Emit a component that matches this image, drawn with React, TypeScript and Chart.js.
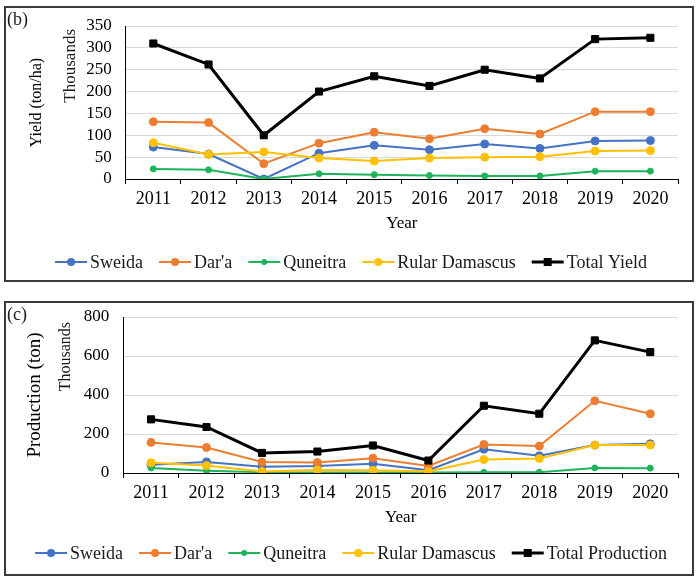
import React, { useEffect, useRef } from "react";
import { Chart, registerables } from "chart.js";

Chart.register(...registerables);

const FONT = '"Liberation Serif", "Times New Roman", Times, serif';

// ---------- data ----------
const years = ["2011", "2012", "2013", "2014", "2015", "2016", "2017", "2018", "2019", "2020"];

const seriesNames = ["Sweida", "Dar'a", "Quneitra", "Rular Damascus"];

// Yield (ton/ha), thousands
const yieldSweida = [73, 57, 0, 59, 77, 67, 80, 70, 87, 88];
const yieldDara = [131, 129, 35, 82, 107, 92, 115, 103, 154, 154];
const yieldQuneitra = [23, 21, 0, 12, 10, 8, 7, 7, 18, 18];
const yieldRural = [83, 56, 62, 48, 41, 48, 50, 51, 64, 65];
const yieldTotal = [310, 262, 100, 200, 235, 213, 250, 230, 320, 323];

// Production (ton), thousands
const prodSweida = [42, 57, 32, 36, 48, 14, 122, 88, 143, 150];
const prodDara = [157, 131, 56, 54, 76, 36, 146, 138, 370, 304];
const prodQuneitra = [26, 12, 4, 3, 2, 2, 4, 4, 26, 25];
const prodRural = [52, 38, 8, 16, 14, 8, 69, 74, 143, 143];
const prodTotal = [275, 236, 103, 110, 141, 64, 345, 304, 680, 620];

const yieldTicks = { min: 0, max: 350, step: 50 };
const prodTicks = { min: 0, max: 800, step: 200 };

const COLORS = ["#4472C4", "#ED7D31", "#1DB45C", "#FFC000", "#000000"];

type PanelCfg = {
  panel: string;
  yTitle: string;
  yTitleSize: number;
  yTitlePad: { top: number; bottom: number };
  totalLabel: string;
  regions: number[][];
  total: number[];
  ticks: { min: number; max: number; step: number };
  height: number;
  padTop: number;
  padLeft: number;
  padBottom: number;
  thX: number;
  thTop: number;
  thSize: number;
  legendFromBottom: number;
};

function extrasPlugin(cfg: PanelCfg) {
  return {
    id: "extras",
    afterDraw(chart: any) {
      const ctx: CanvasRenderingContext2D = chart.ctx;
      const area = chart.chartArea;
      ctx.save();
      ctx.fillStyle = "#1a1a1a";
      ctx.font = `18px ${FONT}`;
      ctx.textAlign = "left";
      ctx.textBaseline = "middle";
      ctx.fillText(cfg.panel, 1, 12);

      ctx.save();
      ctx.translate(area.left - cfg.thX, area.top + cfg.thTop);
      ctx.rotate(-Math.PI / 2);
      ctx.font = `${cfg.thSize}px ${FONT}`;
      ctx.textAlign = "right";
      ctx.textBaseline = "middle";
      ctx.fillStyle = "#1a1a1a";
      ctx.fillText("Thousands", 0, 0);
      ctx.restore();

      // legend
      const markerW = 32;
      const gap = 3;
      const itemGap = 16;
      ctx.font = `18px ${FONT}`;
      const ds = chart.data.datasets;
      const widths = ds.map((d: any) => ctx.measureText(d.label).width);
      let total = 0;
      widths.forEach((w: number) => (total += markerW + gap + w));
      total += itemGap * (ds.length - 1);
      let x = chart.width / 2 - total / 2 + 2;
      const y = chart.height - cfg.legendFromBottom;
      ds.forEach((d: any, i: number) => {
        ctx.strokeStyle = d.borderColor;
        ctx.lineWidth = Math.min(d.borderWidth, 3);
        ctx.beginPath();
        ctx.moveTo(x, y);
        ctx.lineTo(x + markerW, y);
        ctx.stroke();
        ctx.fillStyle = d.borderColor;
        const cx = x + markerW / 2;
        if (d.pointStyle === "rect") {
          ctx.fillRect(cx - 4, y - 4, 8, 8);
        } else {
          ctx.beginPath();
          ctx.arc(cx, y, d.pointRadius, 0, Math.PI * 2);
          ctx.fill();
        }
        ctx.fillStyle = "#1a1a1a";
        ctx.textAlign = "left";
        ctx.textBaseline = "middle";
        ctx.fillText(d.label, x + markerW + gap, y + 1);
        x += markerW + gap + widths[i] + itemGap;
      });
      ctx.restore();
    },
  };
}

function buildConfig(cfg: PanelCfg): any {
  const n = cfg.regions.length + 1;
  const datasets: any[] = cfg.regions.map((data, i) => ({
    label: seriesNames[i],
    data,
    borderColor: COLORS[i],
    backgroundColor: COLORS[i],
    pointBackgroundColor: COLORS[i],
    pointBorderColor: COLORS[i],
    borderWidth: 2,
    pointRadius: i === 2 ? 3 : 4,
    pointBorderWidth: 1,
    pointStyle: "circle",
    tension: 0,
    order: n - i,
  }));
  datasets.push({
    label: cfg.totalLabel,
    data: cfg.total,
    borderColor: "#000000",
    backgroundColor: "#000000",
    pointBackgroundColor: "#000000",
    pointBorderColor: "#000000",
    borderWidth: 3,
    pointRadius: 5,
    pointBorderWidth: 1,
    pointStyle: "rect",
    tension: 0,
    order: 0,
  });
  return {
    type: "line",
    data: { labels: years, datasets },
    options: {
      responsive: false,
      animation: false,
      devicePixelRatio: 1,
      layout: {
        padding: { left: cfg.padLeft, right: 14, top: cfg.padTop, bottom: cfg.padBottom },
      },
      plugins: { legend: { display: false }, tooltip: { enabled: false } },
      scales: {
        x: {
          offset: true,
          grid: {
            offset: true,
            drawOnChartArea: false,
            drawTicks: true,
            tickLength: 5,
            color: "#000000",
          },
          border: { display: true, color: "#000000", width: 1 },
          ticks: { padding: 4, color: "#000000", font: { family: FONT, size: 18 } },
          title: {
            display: true,
            text: "Year",
            color: "#000000",
            font: { family: FONT, size: 17, lineHeight: 1.2 },
            padding: { top: 0, bottom: 0 },
          },
        },
        y: {
          min: cfg.ticks.min,
          max: cfg.ticks.max,
          grid: {
            color: "#d9d9d9",
            lineWidth: 1,
            drawTicks: true,
            tickLength: 12,
            tickColor: "rgba(0,0,0,0)",
          },
          border: { display: true, color: "#000000", width: 1 },
          ticks: {
            stepSize: cfg.ticks.step,
            autoSkip: false,
            padding: 2,
            color: "#000000",
            font: { family: FONT, size: 17 },
          },
          title: {
            display: true,
            text: cfg.yTitle,
            color: "#000000",
            font: { family: FONT, size: cfg.yTitleSize, lineHeight: 1.2 },
            padding: cfg.yTitlePad,
          },
        },
      },
    },
    plugins: [extrasPlugin(cfg)],
  };
}

function Panel({ cfg, top, boxH }: { cfg: PanelCfg; top: number; boxH: number }) {
  const ref = useRef<HTMLCanvasElement | null>(null);
  useEffect(() => {
    if (!ref.current) return;
    const chart = new Chart(ref.current, buildConfig(cfg));
    return () => chart.destroy();
  }, []);
  return (
    <div
      style={{
        position: "absolute",
        left: 4,
        top,
        width: 690,
        height: boxH,
        boxSizing: "border-box",
        border: "2px solid #3a3a3a",
        background: "#ffffff",
      }}
    >
      <canvas
        ref={ref}
        width={686}
        height={cfg.height}
        style={{ position: "absolute", left: 0, top: 0, width: 686, height: cfg.height }}
      />
    </div>
  );
}

const yieldCfg: PanelCfg = {
  panel: "(b)",
  yTitle: "Yield (ton/ha)",
  yTitleSize: 16,
  yTitlePad: { top: 9, bottom: 38 },
  totalLabel: "Total Yield",
  regions: [yieldSweida, yieldDara, yieldQuneitra, yieldRural],
  total: yieldTotal,
  ticks: yieldTicks,
  height: 272,
  padTop: 18,
  padLeft: 12,
  padBottom: 46,
  thX: 55,
  thTop: 3,
  thSize: 17,
  legendFromBottom: 18,
};

const prodCfg: PanelCfg = {
  panel: "(c)",
  yTitle: "Production (ton)",
  yTitleSize: 19,
  yTitlePad: { top: 8, bottom: 35 },
  totalLabel: "Total Production",
  regions: [prodSweida, prodDara, prodQuneitra, prodRural],
  total: prodTotal,
  ticks: prodTicks,
  height: 271,
  padTop: 14,
  padLeft: 10,
  padBottom: 46,
  thX: 58,
  thTop: 5,
  thSize: 16,
  legendFromBottom: 21,
};

export default function App() {
  useEffect(() => {
    document.body.style.margin = "0";
    document.body.style.background = "#ffffff";
  }, []);
  return (
    <div style={{ position: "relative", width: 700, height: 583 }}>
      <Panel cfg={yieldCfg} top={6} boxH={276} />
      <Panel cfg={prodCfg} top={301} boxH={275} />
    </div>
  );
}
